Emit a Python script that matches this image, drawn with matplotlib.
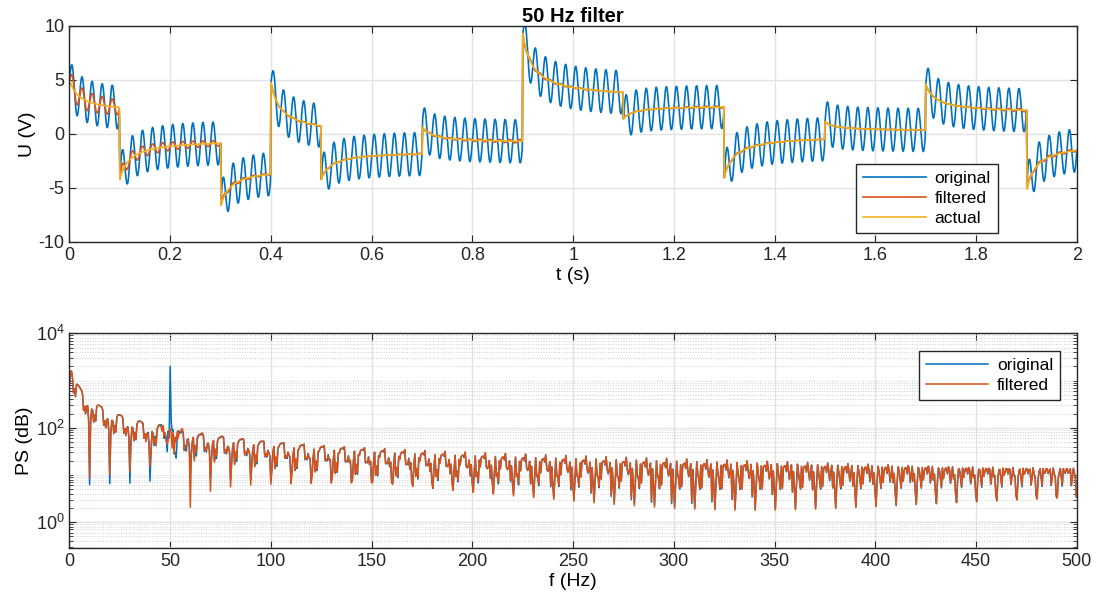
import numpy as np
import matplotlib
matplotlib.use('Agg')
import matplotlib.pyplot as plt
from matplotlib.ticker import LogLocator, NullFormatter, FixedLocator

plt.rcParams['font.family'] = ['Liberation Sans', 'DejaVu Sans']
plt.rcParams['axes.unicode_minus'] = False

# sampling (t = 0:1/fs:2)
fs = 1000
n_samples = 2001
block = 0.1

# step segments of the "actual" signal
seg_t0 = [0.0, 0.1, 0.3, 0.4, 0.5, 0.7, 0.9, 1.1, 1.3, 1.5, 1.7, 1.9]
seg_t1 = [0.1, 0.3, 0.4, 0.5, 0.7, 0.9, 1.1, 1.3, 1.5, 1.7, 1.9, 2.0]
seg_start = [5.0, -4.2, -6.6, 4.75, -4.2, 0.65, 9.3, 1.4, -4.05, 1.14, 4.6, -5.1]
seg_end = [2.45, -0.86, -3.7, 0.75, -1.85, -0.68, 3.85, 2.5, -0.49, 0.37, 2.2, -1.5]
settle_tau = 0.02

# 50 Hz interference
hum_freq = 50
hum_amp = 2.0

# notch filter pole radius
notch_r = 0.994

t = np.arange(n_samples) / fs
blk = np.floor(t / block)
seg_blk = np.array([round(v / block) for v in seg_t0])
seg_id = np.clip(np.searchsorted(seg_blk, blk, side='right') - 1, 0, len(seg_t0) - 1)

actual = np.zeros_like(t)
for k, (t0, t1, s, e) in enumerate(zip(seg_t0, seg_t1, seg_start, seg_end)):
    idx = np.where(seg_id == k)[0]
    dt = t[idx] - t[idx[0]]
    T = t1 - t0
    D = (s - e) / (1 - 1 / (1 + T / settle_tau))
    L = s - D
    actual[idx] = L + D / (1 + dt / settle_tau)

original = actual + hum_amp * np.sin(2 * np.pi * hum_freq * t)


def notch(x, r):
    w0 = 2 * np.pi * hum_freq / fs
    b = np.array([1, -2 * np.cos(w0), 1])
    a = np.array([1, -2 * r * np.cos(w0), r * r])
    b = b * a.sum() / b.sum()
    y = np.zeros_like(x)
    x1 = x2 = y1 = y2 = x[0]
    for n in range(len(x)):
        y[n] = b[0] * x[n] + b[1] * x1 + b[2] * x2 - a[1] * y1 - a[2] * y2
        x2, x1 = x1, x[n]
        y2, y1 = y1, y[n]
    return y


filtered = notch(notch(original, notch_r)[::-1], notch_r)[::-1]

# spectra
N = len(t)
half = N // 2 + 1
freq = np.arange(half) * fs / N
ps_orig = np.abs(np.fft.fft(original))[:half]
ps_filt = np.abs(np.fft.fft(filtered))[:half]

blue = '#0072BD'
red = '#D95319'
orange = '#EDB120'
grid_c = '#e3e3e3'
ax_c = '#262626'

fig = plt.figure(figsize=(11.01, 6.12), dpi=100)

# ---- top: time signal
ax1 = fig.add_axes([0.0631, 0.6046, 0.915, 0.3530])
ax1.plot(t, original, color=blue, lw=1.2, label='original')
ax1.plot(t, filtered, color=red, lw=1.2, label='filtered')
ax1.plot(t, actual, color=orange, lw=1.2, label='actual')
ax1.set_xlim(0, 2)
ax1.set_ylim(-10, 10)
ax1.set_xticks(np.arange(0, 2.01, 0.2))
ax1.set_xticklabels(['0', '0.2', '0.4', '0.6', '0.8', '1', '1.2', '1.4', '1.6', '1.8', '2'])
ax1.set_yticks([-10, -5, 0, 5, 10])
ax1.set_xlabel('t (s)', fontsize=14, labelpad=2)
ax1.set_ylabel('U (V)', fontsize=14, labelpad=2)
ax1.set_title('50 Hz filter', fontsize=14.5, fontweight='bold', pad=3)
ax1.grid(True, color=grid_c, lw=1)
leg1 = ax1.legend(loc='lower right', bbox_to_anchor=(0.93, 0.0), fontsize=12.5,
                  fancybox=False, edgecolor=ax_c, framealpha=1, handlelength=3.6,
                  labelspacing=0.3, borderpad=0.4, handletextpad=0.5)
leg1.get_frame().set_linewidth(1)

# ---- bottom: power spectrum
ax2 = fig.add_axes([0.0631, 0.1041, 0.915, 0.3513])
ax2.plot(freq, ps_orig, color=blue, lw=1.1, label='original')
ax2.plot(freq, ps_filt, color=red, lw=1.1, label='filtered')
ax2.set_yscale('log')
ax2.set_xlim(0, 500)
ax2.set_ylim(0.28, 1e4)
ax2.set_xticks(np.arange(0, 501, 50))
ax2.yaxis.set_major_locator(FixedLocator([1e0, 1e2, 1e4]))
ax2.yaxis.set_minor_locator(LogLocator(base=10, subs=np.arange(1, 10), numticks=20))
ax2.yaxis.set_minor_formatter(NullFormatter())
ax2.set_xlabel('f (Hz)', fontsize=14, labelpad=2)
ax2.set_ylabel('PS (dB)', fontsize=14, labelpad=2)
ax2.grid(True, which='major', color=grid_c, lw=1)
ax2.grid(True, which='minor', axis='y', color='#d0d0d0', lw=0.7, ls=':')
leg2 = ax2.legend(loc='upper right', bbox_to_anchor=(0.992, 0.96), fontsize=12.5,
                  fancybox=False, edgecolor=ax_c, framealpha=1, handlelength=3.6,
                  labelspacing=0.3, borderpad=0.4, handletextpad=0.5)
leg2.get_frame().set_linewidth(1)

for ax in (ax1, ax2):
    ax.set_axisbelow(True)
    ax.tick_params(direction='in', which='both', top=True, right=True,
                   labelsize=13, colors=ax_c, length=5)
    ax.tick_params(which='minor', length=3)
    for sp in ax.spines.values():
        sp.set_color(ax_c)
        sp.set_linewidth(1)

fig.savefig('out.png', dpi=100)
